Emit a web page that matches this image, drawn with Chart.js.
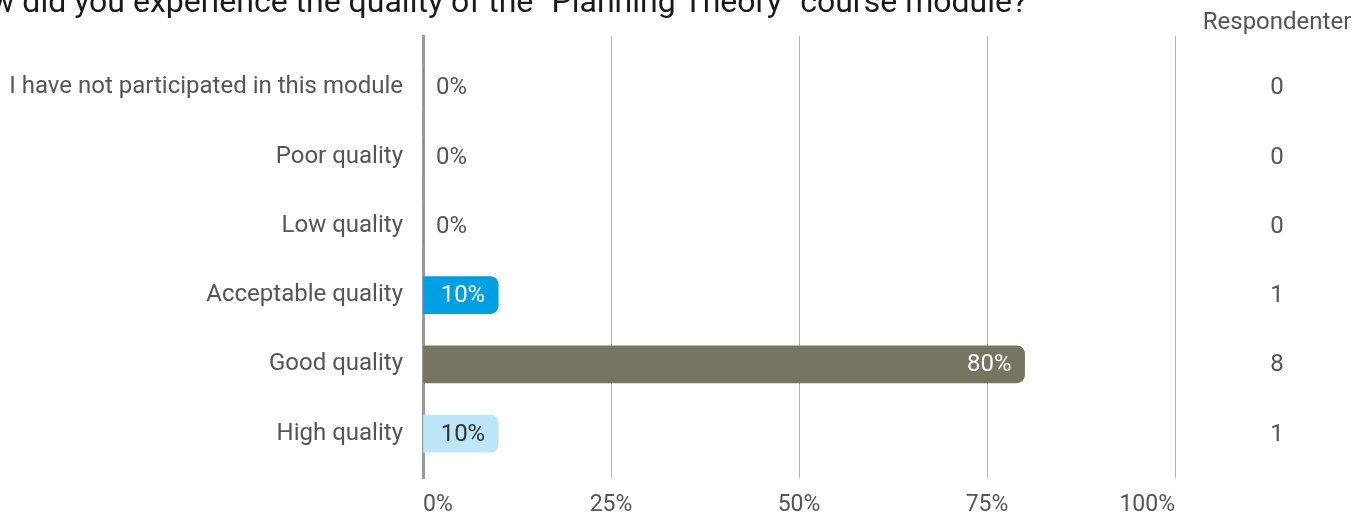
<!DOCTYPE html>
<html>
<head>
<meta charset="utf-8">
<script src="https://cdn.jsdelivr.net/npm/chart.js@4/dist/chart.umd.min.js"></script>
<style>
  body { margin: 0; background: #fff; }
  canvas { display: block; }
</style>
</head>
<body>
<canvas id="surveyChart" width="1369" height="517"></canvas>
<script>
var title = 'How did you experience the quality of the "Planning Theory" course module?';
var categories = [
    'I have not participated in this module',
    'Poor quality',
    'Low quality',
    'Acceptable quality',
    'Good quality',
    'High quality'
];
var percentages = [0, 0, 0, 10, 80, 10];
var respondents = [0, 0, 0, 1, 8, 1];
var xTicks = [0, 25, 50, 75, 100];
var countHeader = 'Respondenter';

var barColors = ['#009fe3', '#009fe3', '#009fe3', '#009fe3', '#787462', '#bee6fa'];
var labelColors = ['#555555', '#555555', '#555555', '#ffffff', '#ffffff', '#333333'];

// bar chart data as {x, y} points so the index axis can be linear
var points = percentages.map(function(v, i) {
    return { x: v, y: i };
});

var extraText = {
    id: 'extraText',
    afterDatasetsDraw: function(chart) {
        var ctx = chart.ctx;
        var meta = chart.getDatasetMeta(0);
        ctx.save();
        ctx.font = '24px Roboto';
        ctx.textBaseline = 'middle';
        meta.data.forEach(function(bar, i) {
            var txt = percentages[i] + '%';
            var w = ctx.measureText(txt).width;
            var barLen = bar.x - bar.base;
            if (barLen > w + 26) {
                ctx.textAlign = 'right';
                ctx.fillStyle = labelColors[i];
                ctx.fillText(txt, bar.x - 13, bar.y + 1);
            } else {
                ctx.textAlign = 'left';
                ctx.fillStyle = '#555555';
                ctx.fillText(txt, bar.x + 13, bar.y + 1);
            }
            // respondent count column
            ctx.textAlign = 'center';
            ctx.fillStyle = '#555555';
            ctx.fillText(String(respondents[i]), 1277, bar.y + 1);
        });
        ctx.fillText(countHeader, 1277, 23);

        // title, clipped at the top of the picture
        ctx.font = '32px Roboto';
        ctx.fillStyle = '#1a1a1a';
        ctx.textAlign = 'right';
        ctx.textBaseline = 'alphabetic';
        ctx.fillText(title, 1027, 12);
        ctx.restore();
    }
};

var ctx = document.getElementById('surveyChart').getContext('2d');
var chart = new Chart(ctx, {
    type: 'bar',
    data: {
        datasets: [{
            data: points,
            backgroundColor: barColors,
            borderRadius: 8,
            borderSkipped: 'start',
            barThickness: 37
        }]
    },
    options: {
        responsive: false,
        animation: false,
        indexAxis: 'y',
        layout: {
            padding: { top: 36, right: 194, left: 0, bottom: 0 }
        },
        plugins: {
            legend: { display: false },
            tooltip: { enabled: false }
        },
        scales: {
            x: {
                type: 'linear',
                min: 0,
                max: 100,
                afterBuildTicks: function(scale) {
                    scale.ticks = xTicks.map(function(v) { return { value: v }; });
                },
                ticks: {
                    align: 'inner',
                    padding: 13,
                    color: '#555555',
                    font: { family: 'Roboto', size: 23 },
                    callback: function(v) { return v + '%'; }
                },
                grid: {
                    color: '#b4b4b4',
                    lineWidth: 1,
                    drawTicks: false
                },
                border: { display: false },
                afterFit: function(scale) { scale.height = 39; }
            },
            y: {
                type: 'linear',
                reverse: true,
                offset: false,
                min: -0.74,
                max: 5.64,
                afterBuildTicks: function(scale) {
                    scale.ticks = categories.map(function(c, i) { return { value: i }; });
                },
                ticks: {
                    padding: 20,
                    color: '#555555',
                    font: { family: 'Roboto', size: 24 },
                    callback: function(v) { return categories[v]; }
                },
                grid: { display: false, drawTicks: false, offset: false },
                border: { display: true, color: '#9a9a9a', width: 3 },
                afterFit: function(scale) { scale.width = 423; }
            }
        }
    },
    plugins: [extraText]
});
</script>
</body>
</html>
